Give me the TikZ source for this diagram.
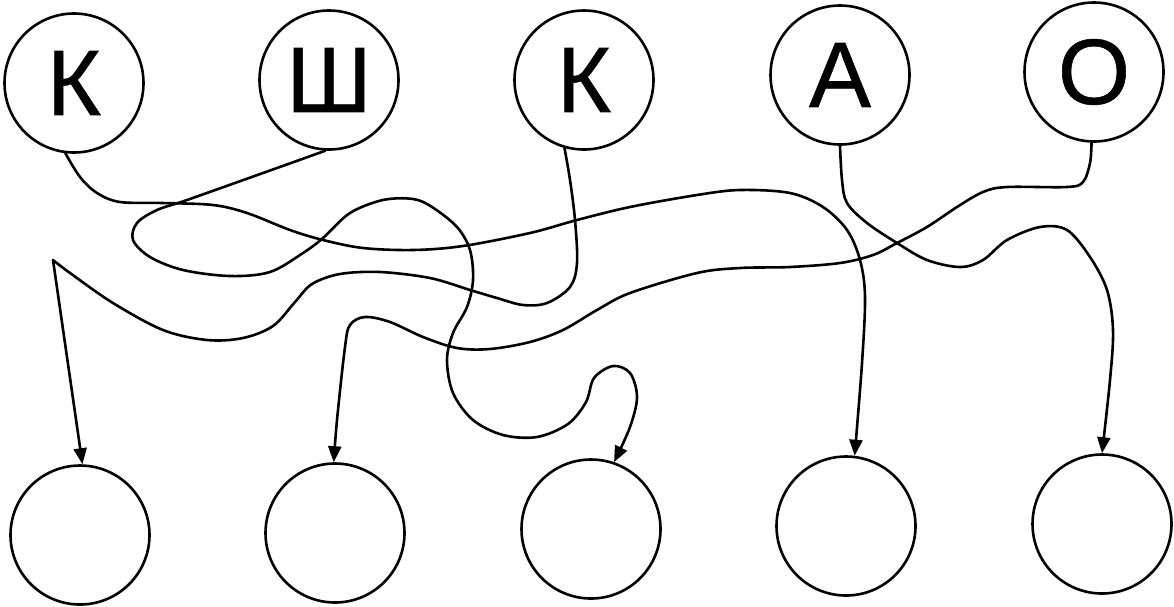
\documentclass[tikz,border=0pt]{standalone}
\usepackage{fontspec}
\setmainfont{Liberation Sans}
\newfontfamily\letterfont[FakeBold=0.6]{Liberation Sans}
\usetikzlibrary{arrows.meta}
\tikzset{
  ring/.style={circle, draw, line width=2.6pt, minimum size=139pt, inner sep=0pt,
    font=\letterfont\fontsize{93}{93}\selectfont},
  wire/.style={line width=2.6pt, line cap=round, line join=round,
    -{Triangle[length=16pt,width=13pt]}},
  sm/.style={smooth, tension=0.55}
}
\begin{document}
\begin{tikzpicture}[x=1pt,y=-1pt]
\useasboundingbox[fill=white] (0,0) rectangle (1174,606);
% top row
\node[ring] (t1) at (74,83) {К};
\node[ring] (t2) at (329,80) {Ш};
\node[ring] (t3) at (584,80) {К};
\node[ring] (t4) at (840,75) {А};
\node[ring] (t5) at (1094,72) {О};
% bottom row
\node[ring] (b1) at (80,535) {};
\node[ring] (b2) at (335,533) {};
\node[ring] (b3) at (591,529) {};
\node[ring] (b4) at (846,526) {};
\node[ring] (b5) at (1102,524) {};
% curve 1: K -> b4
\draw[wire] plot[sm] coordinates {(t1.-97) (80,177) (97,193) (120,202) (163,203) (213,205) (247,213)
  (290,230) (323,240) (363,248) (413,250) (463,246) (530,233) (577,220) (630,207) (697,195)
  (740,190) (790,193) (823,207) (847,230) (860,260) (865,297) (862,363) (b4.83)};
% curve 2: Sh -> b3
\draw[wire] plot[sm] coordinates {(t2.-93) (263,173) (187,200) (157,210) (137,223) (133,240) (150,257)
  (183,270) (230,276) (270,272) (303,253) (323,238) (350,213) (383,200) (413,199) (432,207)
  (457,227) (470,250) (473,280) (467,307) (453,333) (447,360) (453,393) (473,420) (503,435)
  (537,437) (568,424) (586,402) (594,378) (613,366) (630,373) (637,397) (630,427) (b3.71)};
% curve 3: K -> b1
\draw[wire] plot[sm] coordinates {(t3.-106) (570,180) (575,220) (577,263) (570,287) (547,303) (523,305)
  (497,298) (470,290) (430,278) (380,272) (340,274) (312,284) (295,302) (273,326) (243,338)
  (207,340) (163,330) (113,303) (70,273) (53,260)} -- (b1.88);
% curve 4: A -> b5
\draw[wire] plot[sm] coordinates {(t4.-90) (842,180) (847,203) (867,223) (897,243) (927,260) (960,267)
  (983,260) (1007,240) (1040,227) (1067,230) (1090,257) (1107,290) (1113,330) (1110,380) (b5.90)};
% curve 5: O -> b2
\draw[wire] plot[sm] coordinates {(t5.-92) (1090,163) (1083,182) (1067,187) (1007,187) (983,192)
  (957,207) (927,227) (897,243) (873,255) (840,263) (790,267) (740,268) (697,273) (630,293)
  (597,310) (563,330) (530,342) (490,349) (457,348) (423,337) (390,322) (365,317) (350,325)
  (345,347) (337,420) (b2.91)};
\end{tikzpicture}
\end{document}
